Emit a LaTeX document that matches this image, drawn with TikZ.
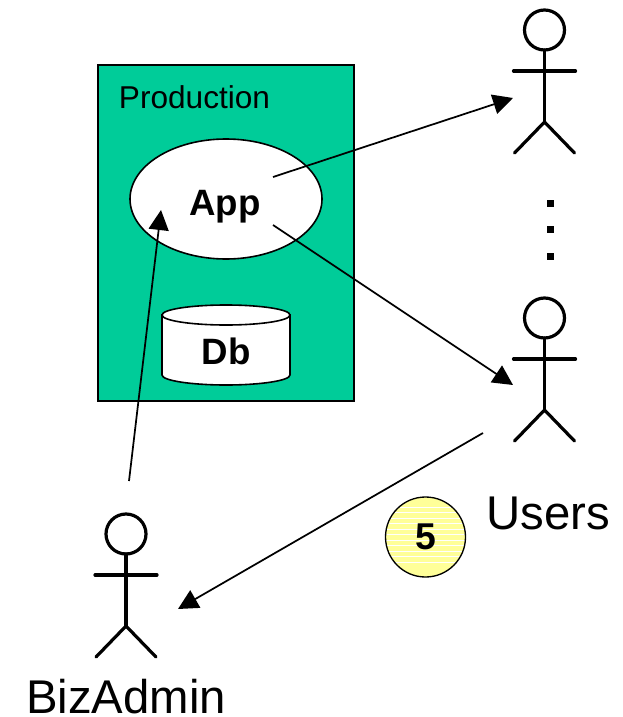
\documentclass[tikz,border=0pt]{standalone}
\usepackage{fontspec}
\setmainfont{Liberation Sans}
\usetikzlibrary{arrows.meta}
\definecolor{prod}{RGB}{0,204,153}
\definecolor{badge}{RGB}{255,255,153}
\tikzset{x=0.75pt,y=-0.75pt,
 limb/.style={line width=2.4pt,line cap=round},
 conn/.style={line width=1.3pt,-{Triangle[length=15pt,width=15pt]}},
 biglab/.style={inner sep=0pt,anchor=base,font=\fontsize{35.5}{40}\selectfont},
 blab/.style={inner sep=0pt,anchor=base,font=\fontsize{27.5}{32}\selectfont\bfseries},
 dotmark/.style={fill=black,minimum width=5.25pt,minimum height=5.25pt,inner sep=0pt}}
\newcommand{\actor}[2]{%
 \draw[limb] (#1,#2) circle (20);
 \draw[limb] (#1,#2+20) -- (#1,#2+92);
 \draw[limb] (#1-31,#2+41) -- (#1+31,#2+41);
 \draw[limb] (#1-30,#2+123) -- (#1,#2+92) -- (#1+30,#2+123);}
\begin{document}
\begin{tikzpicture}
\useasboundingbox (0,0) rectangle (623,717);
\node[draw=black,line width=1.2pt,fill=prod,minimum width=192pt,minimum height=252pt,inner sep=0pt] (prodbox) at (226,233) {};
\node[inner sep=0pt,anchor=base,font=\fontsize{23.7}{28}\selectfont] (prodlabel) at (194.5,108.5) {Production};
\draw[fill=white,line width=1.2pt] (226,199) ellipse (96 and 60);
\node[blab] (applabel) at (225,215) {App};
% Database cylinder
\draw[fill=white,line width=1.2pt] (162,315) -- (162,375) .. controls (162,380.5) and (190.7,385) .. (226,385) .. controls (261.3,385) and (290,380.5) .. (290,375) -- (290,315) -- cycle;
\draw[fill=white,line width=1.2pt] (226,315) ellipse (64 and 10);
\node[blab] (dblabel) at (226,364) {Db};
% Actors
\actor{544.5}{30}
\actor{544.5}{318}
\actor{126}{534}
% dots
\node[dotmark] (d1) at (550,203) {};
\node[dotmark] (d2) at (550,229) {};
\node[dotmark] (d3) at (550,256) {};
% connectors
\coordinate (a1) at (273,177);
\coordinate (a2) at (513,98);
\coordinate (b1) at (273,225);
\coordinate (b2) at (513,385);
\coordinate (c1) at (483,433);
\coordinate (c2) at (178,609);
\coordinate (e1) at (129,481);
\coordinate (e2) at (161,210);
\draw[conn] (a1) -- (a2);
\draw[conn] (b1) -- (b2);
\draw[conn] (c1) -- (c2);
\draw[conn] (e1) -- (e2);
% badge
\fill[badge] (425.5,537) circle (40);
\foreach \yy in {507,512.5,...,567} {\draw[white,line width=0.5pt] ({425.5-sqrt(1600-(\yy-537)*(\yy-537))},\yy) -- ({425.5+sqrt(1600-(\yy-537)*(\yy-537))},\yy);}
\node[circle,draw=black,line width=1pt,minimum size=60pt,inner sep=0pt,font=\fontsize{28}{30}\selectfont\bfseries] (badge5) at (425.5,537) {5};
\node[biglab] (users) at (548,529.5) {Users};
\node[biglab] (bizadmin) at (126,713) {BizAdmin};
\end{tikzpicture}
\end{document}
